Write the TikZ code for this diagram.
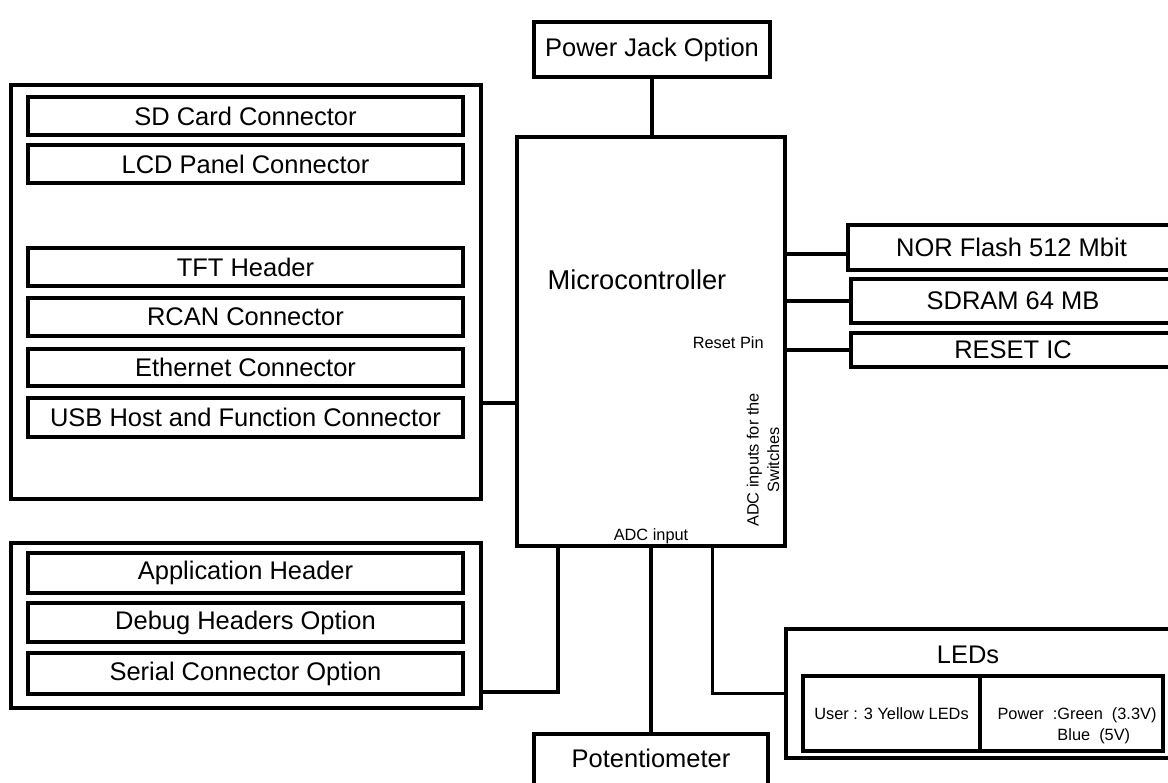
\documentclass[tikz,border=0pt]{standalone}
\usepackage{fontspec}
\setmainfont{Liberation Sans}
\usetikzlibrary{positioning, calc}

\begin{document}
\begin{tikzpicture}[x=0.02cm, y=-0.02cm,
    big/.style={font=\fontsize{14.5}{17}\selectfont},
    box/.style={draw, line width=1.8pt, inner sep=0pt, big},
    slot/.style={box, minimum width=8.7cm, minimum height=0.76cm},
    tiny/.style={font=\fontsize{9.3}{11.6}\selectfont, inner sep=0pt},
    wire/.style={line width=1.8pt}]
    \useasboundingbox (0,0) rectangle (1168,783);
    \clip (0,0) rectangle (1168,783);
    % power jack
    \node[box, minimum width=4.72cm, minimum height=1.10cm] (jack) at (652,49.5) {Power Jack Option};
    % microcontroller
    \node[box, minimum width=5.36cm, minimum height=8.18cm] (mcu) at (651,341.5) {};
    \node[font=\fontsize{15.5}{18}\selectfont] (mcutitle) at (637,280) {Microcontroller};
    \node[tiny, anchor=east] (rstpin) at (764,343) {Reset Pin};
    \node[tiny, rotate=90, align=center] (adcsw) at (763,460) {ADC inputs for the\\Switches};
    \node[tiny] (adcin) at (651,536) {ADC input};
    % memory and reset
    \node[box, minimum width=6.54cm, minimum height=0.90cm] (nor) at (1011.5,247.5) {NOR Flash 512 Mbit};
    \node[box, minimum width=6.48cm, minimum height=0.88cm] (sdram) at (1013,301) {SDRAM 64 MB};
    \node[box, minimum width=6.48cm, minimum height=0.68cm] (reset) at (1013,350) {RESET IC};
    % connector group
    \node[box, minimum width=9.40cm, minimum height=8.28cm] (panel) at (246,292) {};
    \node[slot] (sd) at (245.5,116) {SD Card Connector};
    \node[slot] (lcd) at (245.5,164) {LCD Panel Connector};
    \node[slot] (tft) at (245.5,267) {TFT Header};
    \node[slot] (rcan) at (245.5,317) {RCAN Connector};
    \node[slot, minimum height=0.74cm] (eth) at (245.5,367.5) {Ethernet Connector};
    \node[slot, minimum height=0.78cm] (usb) at (245.5,417.5) {USB Host and Function Connector};
    % header group
    \node[box, minimum width=9.40cm, minimum height=3.30cm] (hdr) at (246,625.5) {};
    \node[slot, minimum height=0.80cm] (app) at (245.5,573) {Application Header};
    \node[slot, minimum height=0.78cm] (dbg) at (245.5,622.5) {Debug Headers Option};
    \node[slot, minimum height=0.82cm] (ser) at (245.5,673.5) {Serial Connector Option};
    % potentiometer
    \node[box, minimum width=4.68cm, minimum height=1.32cm, text depth=0.36cm] (pot) at (651,767) {Potentiometer};
    % LEDs
    \node[box, minimum width=7.88cm, minimum height=2.58cm] (leds) at (983,693.5) {};
    \node[big] (ledtitle) at (968,655) {LEDs};
    \node[box, tiny, minimum width=3.54cm, minimum height=1.50cm] (usercell) at (891.5,713.5) {User : 3 Yellow LEDs};
    \node[box, minimum width=3.66cm, minimum height=1.50cm] (pwrcell) at (1071.5,713.5) {};
    \node[tiny] (pwrtext) at (1077,726) {\begin{tabular}{@{}l@{}l@{}}Power\ \ :\ & Green\ \ (3.3V)\\ & Blue\ \ (5V)\end{tabular}};
    % wires
    \draw[wire] (jack.south) -- (jack.south |- mcu.north);
    \coordinate (usbtap) at ([yshift=-2.22cm]panel.east);
    \draw[wire] (usbtap) -- (usbtap -| mcu.west);
    \coordinate (hdrtap) at ([yshift=-1.33cm]hdr.east);
    \coordinate (sertap) at ([xshift=0.85cm]mcu.south west);
    \draw[wire] (hdrtap) -| (sertap);
    \draw[wire] (mcu.south) -- (pot.north);
    \coordinate (ledtap) at ([xshift=-1.49cm]mcu.south east);
    \draw[wire] (ledtap) |- (leds.west);
    \coordinate (nortap) at ([yshift=-0.13cm]nor.west);
    \draw[wire] (nortap -| mcu.east) -- (nortap);
    \draw[wire] (sdram.west -| mcu.east) -- (sdram.west);
    \draw[wire] (reset.west -| mcu.east) -- (reset.west);
\end{tikzpicture}
\end{document}
